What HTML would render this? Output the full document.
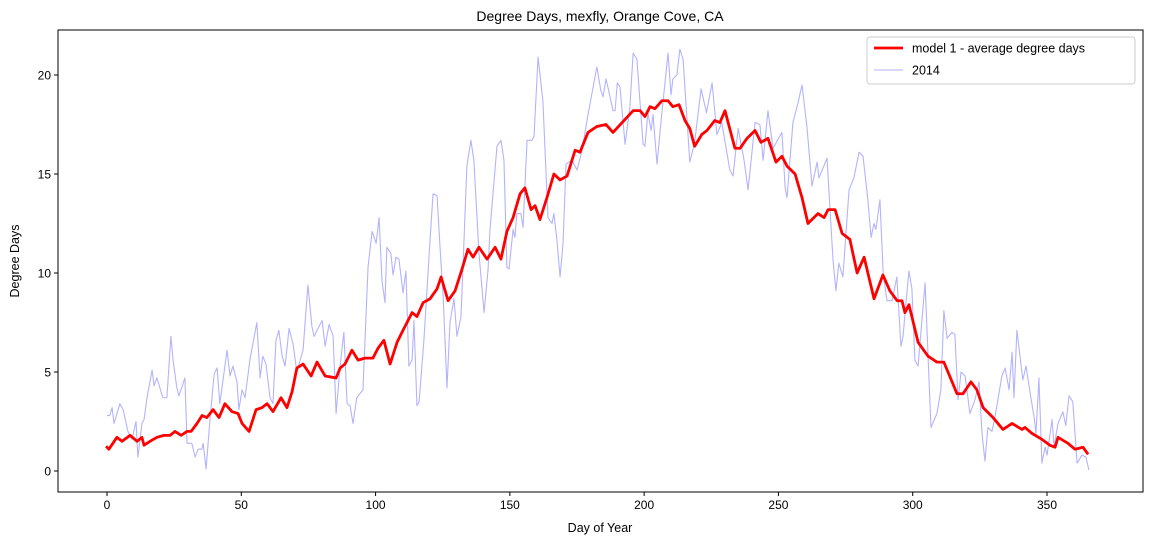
<!DOCTYPE html>
<html><head><meta charset="utf-8"><style>
html,body{margin:0;padding:0;background:#fff;}
svg{display:block;font-family:"Liberation Sans","DejaVu Sans",sans-serif;}
</style></head><body>
<svg id="chart" width="1152" height="545" viewBox="0 0 1152 545" xmlns="http://www.w3.org/2000/svg">
<rect x="0" y="0" width="1152" height="545" fill="#fff"/>
<text x="600" y="21" font-size="14" text-anchor="middle" fill="#000">Degree Days, mexfly, Orange Cove, CA</text>
<g id="plot"></g>
<text x="600" y="532" font-size="12.5" text-anchor="middle">Day of Year</text>
<text x="19" y="261" font-size="12.5" text-anchor="middle" transform="rotate(-90 19 261)">Degree Days</text>
<g>
<rect x="867" y="37" width="268" height="47" rx="3" fill="#fff" fill-opacity="0.8" stroke="#ccc" stroke-width="1"/>
<line x1="874" y1="48" x2="903" y2="48" stroke="#ff0000" stroke-width="2.8"/>
<text x="912" y="52.5" font-size="12.5">model 1 - average degree days</text>
<line x1="874" y1="70" x2="903" y2="70" stroke="#b3b3ff" stroke-width="1.1"/>
<text x="912" y="74.5" font-size="12.5">2014</text>
</g>
</svg>
<script>
const xTicks = [0,50,100,150,200,250,300,350];
const yTicks = [0,5,10,15,20];
const modelDays = [0,0.7,3.7,5.6,8.6,11.2,13,13.8,16,18.6,21.2,23.5,25.3,27.6,29.8,31.3,33.5,35.4,37.2,39.5,41.7,43.9,46.5,48.8,50.3,52.9,55.5,57.7,59.6,61.8,64.8,67,68.9,70.7,73,76,78.2,81.2,85.3,86.8,88.6,91.2,93.5,96,99,100.9,103.1,105.4,108,110.2,113.6,115.4,117.7,120.3,122.9,124.4,127,129.6,132.2,134.4,136.3,138.5,141.5,144.5,146.7,148.9,151.2,153.8,155.6,157.9,159.4,161.2,163.8,166.4,168.7,171.3,174.3,176.1,179.1,182.4,185.8,188.4,191.8,195.9,198.5,200.3,202.2,204,206.6,208.9,210.7,213,215.2,217,218.8,221.5,223.4,226.3,228.2,230.1,233.8,235.7,238.3,241.3,243.5,246.1,249.1,251.3,253.2,256.2,258.8,261,264.7,267,268.5,271.1,273.7,276.6,279.3,281.9,285.6,288.9,291.5,294.2,296,297.1,298.6,302,305.7,309,311.6,316.5,318.7,321.7,323.9,326.2,329.9,333.6,337,340.7,341.8,344.4,348.1,351.1,353,354.1,357.8,360.4,363.4,365];
const modelValues = [1.2,1.1,1.7,1.5,1.8,1.5,1.7,1.3,1.5,1.7,1.8,1.8,2.0,1.8,2.0,2.0,2.4,2.8,2.7,3.1,2.7,3.4,3.0,2.9,2.4,2.0,3.1,3.2,3.4,3.0,3.7,3.2,4.0,5.2,5.4,4.8,5.5,4.8,4.7,5.2,5.4,6.1,5.6,5.7,5.7,6.2,6.6,5.4,6.5,7.1,8.0,7.8,8.5,8.7,9.2,9.8,8.6,9.1,10.2,11.2,10.8,11.3,10.7,11.3,10.7,12.1,12.8,14.0,14.3,13.2,13.4,12.7,13.8,15.0,14.7,14.9,16.2,16.1,17.1,17.4,17.5,17.1,17.6,18.2,18.2,17.9,18.4,18.3,18.7,18.7,18.4,18.5,17.7,17.3,16.4,17.0,17.2,17.7,17.6,18.2,16.3,16.3,16.8,17.2,16.6,16.8,15.6,15.9,15.4,15.0,13.8,12.5,13.0,12.8,13.2,13.2,12.0,11.7,10.0,10.8,8.7,9.9,9.1,8.6,8.6,8.0,8.4,6.5,5.8,5.5,5.5,3.9,3.9,4.5,4.1,3.2,2.7,2.1,2.4,2.1,2.2,1.9,1.6,1.3,1.2,1.7,1.4,1.1,1.2,0.9];
const obsDays = [0,1,1.9,2.6,4.8,6,7.8,9.3,10.8,11.5,13,13.8,14.9,16.8,17.5,18.6,20.8,22.3,23.8,24.6,26,26.8,29,29.8,31.6,32.8,33.9,35.3,35.8,36.9,38.4,39.9,41,42,43.2,44.7,45.8,46.9,48.4,49.1,50.3,51.4,53.2,55.8,57,58,59.2,60.7,61.8,62.9,64,65.2,66.3,67.8,69.3,70.7,71.5,73,74.8,76.3,77.1,78.2,80.1,81.2,82.7,84.2,85.3,86.8,88.2,89.4,90.5,91.6,93,95.3,97.2,98.7,100.2,101.3,102.4,103.5,104.2,105.7,106.5,107.6,108.7,110.2,111.3,112.4,113.6,114.3,115.4,116.2,118,120.3,121.4,122.9,124,125.1,126.6,127.7,129.2,130.3,131.8,132.6,134,135.5,136.6,138.5,140.4,141.9,142.6,145.2,146.7,147.8,148.9,149.7,151.2,151.9,152.6,154.1,154.9,156.4,158.2,159,160.5,162.3,164.2,165.7,166.4,167.5,168.7,169.8,170.9,173.1,175,176.9,178.7,180.6,182.4,183.9,184.7,185.8,187.3,188.4,189.2,190,191,192.9,194.7,195.9,197.3,199.6,200.3,201.4,202.6,203.3,204.8,206.6,208.9,210,210.7,212.2,213.3,214.5,217,218.8,221.2,223.2,225.3,227.1,228.9,231.9,233.1,235,237.2,238.7,241.3,243.1,244.3,246.1,248,251.3,252.5,253.2,255.4,257.3,258.8,260.6,262.5,264.4,265.1,268.1,270.3,271.4,272.5,274,276.3,278.1,280,281.5,283.3,284.5,285.6,286.3,287.8,289,290.4,292.3,294.1,295.6,296.4,297.5,298.6,299.7,300.8,302,304.6,306.8,309,310.5,311.6,312.8,314.6,315.7,316.9,318,319.5,321.3,323.2,324.7,325.8,326.9,328,329.5,330.6,333.2,334.4,335.9,337,337.7,338.8,341,342.2,343.3,345.2,345.9,347,348.1,349.3,350,351.9,352.6,354.1,355.9,357,358.2,359.6,361.2,363,364.5,365.6];
const obsValues = [2.8,2.8,3.2,2.4,3.4,3.1,2.0,1.6,2.5,0.7,2.4,2.6,3.7,5.1,4.3,4.7,3.7,3.7,6.8,5.6,4.2,3.8,4.7,1.4,1.4,0.7,1.1,1.1,1.4,0.1,2.7,4.9,5.2,3.4,4.6,6.1,4.8,5.3,4.5,3.1,4.1,3.7,5.6,7.5,4.7,5.8,5.4,3.7,3.4,6.6,7.1,5.8,5.3,7.2,6.4,5.0,5.4,6.1,9.4,7.3,6.8,7.1,7.6,6.3,7.4,6.8,2.9,5.3,7.0,3.4,3.3,2.4,3.7,4.1,10.3,12.1,11.5,12.8,9.6,8.5,11.3,11.0,9.9,10.8,10.7,9.0,10.1,5.3,5.6,7.6,3.3,3.5,6.6,11.7,14.0,13.9,11.3,9.0,4.2,7.5,8.7,6.8,7.8,10.5,15.4,16.7,15.7,11.0,8.0,10.2,12.2,16.4,16.7,15.7,10.3,10.2,12.2,11.8,13.0,13.0,12.3,16.7,16.7,16.9,20.9,18.7,12.8,12.5,13.0,11.7,9.8,11.5,15.5,15.7,15.2,16.2,17.7,19.1,20.4,19.2,18.9,19.8,18.9,18.2,18.2,19.6,19.4,16.5,18.4,21.1,20.8,16.5,16.4,18.1,17.2,18.0,15.5,18.1,21.1,19.0,19.8,20.0,21.3,20.8,15.6,16.6,19.3,18.1,19.6,17.0,17.6,15.2,14.9,17.3,15.7,14.2,17.6,17.5,15.7,18.2,16.3,17.1,14.3,13.8,17.6,18.6,19.5,17.4,14.4,15.6,14.8,15.8,10.7,9.1,10.5,9.8,14.2,14.8,16.1,15.9,13.7,11.8,12.5,12.2,13.7,10.0,8.6,8.6,9.8,6.3,6.8,8.5,10.1,9.2,5.6,5.3,9.5,2.2,2.9,4.1,8.1,6.7,7.0,6.9,3.6,5.0,4.8,2.9,3.6,4.5,1.9,0.5,2.2,2.0,2.7,4.8,5.2,4.1,6.0,3.7,7.1,4.6,5.3,4.3,2.7,1.9,4.7,0.4,1.2,0.8,2.6,1.2,2.4,3.0,2.3,3.8,3.5,0.4,0.8,0.7,0.05];

const L=58,R=1143,T=30,B=492;
const xs = d => 107 + d*(1047-107)/350;
const ys = v => 471 - v*(471-75)/20;
const NS='http://www.w3.org/2000/svg';
const plot=document.getElementById('plot');
function mk(tag,attrs){const e=document.createElementNS(NS,tag);for(const k in attrs)e.setAttribute(k,attrs[k]);return e;}

function pathFrom(days,vals){return days.map((d,i)=>(i?'L':'M')+xs(d).toFixed(2)+','+ys(vals[i]).toFixed(2)).join(' ');}

const obs=mk('path',{d:pathFrom(obsDays,obsValues),fill:'none',stroke:'#b3b3ff','stroke-width':1.1,'stroke-linejoin':'round'});


plot.appendChild(obs);
const mod=mk('path',{d:pathFrom(modelDays,modelValues),fill:'none',stroke:'#ff0000','stroke-width':2.8,'stroke-linejoin':'round','stroke-linecap':'square'});


plot.appendChild(mod);

const frame=mk('rect',{x:L,y:T,width:R-L,height:B-T,fill:'none',stroke:'#000','stroke-width':1});


plot.appendChild(frame);

xTicks.forEach(t=>{
  const x=xs(t);
  const tk=mk('line',{x1:x,y1:B,x2:x,y2:B+4,stroke:'#000','stroke-width':1});
  
  
  plot.appendChild(tk);
  const lb=mk('text',{x:x,y:B+17,'font-size':12,'text-anchor':'middle'});
  lb.textContent=t;
  
  
  plot.appendChild(lb);
});
yTicks.forEach(t=>{
  const y=ys(t);
  const tk=mk('line',{x1:L-4,y1:y,x2:L,y2:y,stroke:'#000','stroke-width':1});
  
  
  plot.appendChild(tk);
  const lb=mk('text',{x:L-7,y:y+4.5,'font-size':12,'text-anchor':'end'});
  lb.textContent=t;
  
  
  plot.appendChild(lb);
});
</script>
</body></html>
